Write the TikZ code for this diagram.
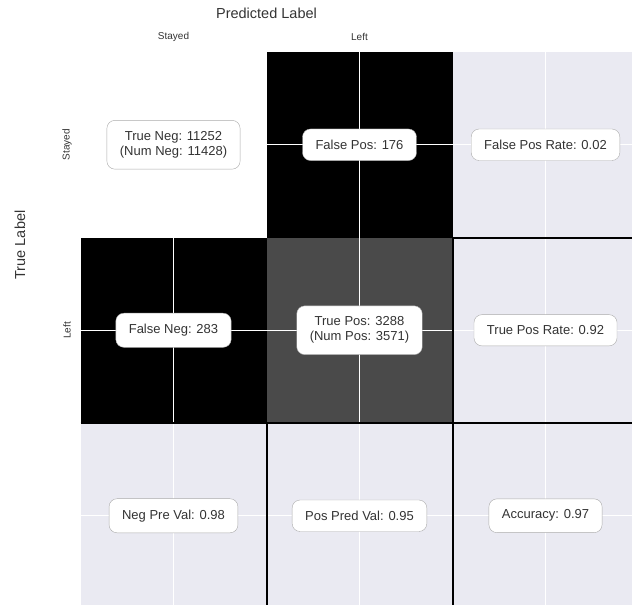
\documentclass[tikz,border=0pt]{standalone}
\usepackage{fontspec}
\setmainfont{Liberation Sans}
\usetikzlibrary{positioning}

\definecolor{axbg}{HTML}{EAEAF2}
\definecolor{cellgray}{HTML}{4A4A4A}
\definecolor{txtgray}{HTML}{333333}
\definecolor{boxedge}{HTML}{ABABAB}

\begin{document}
\begin{tikzpicture}[x = 1pt, y = -1pt,
    cell/.style = {minimum width = 186pt, minimum height = 185.5pt, inner sep = 0pt, outer sep = 0pt},
    stat/.style = {draw = boxedge, fill = white, rounded corners = 8pt, text = txtgray, align = center,
                   font = \fontsize{13}{15}\selectfont, inner xsep = 13pt, inner ysep = 11pt},
    tick/.style = {text = txtgray, font = \fontsize{10}{11}\selectfont},
    axlabel/.style = {text = txtgray, font = \fontsize{14.5}{17}\selectfont},
    gridline/.style = {white, line width = 1pt},
    sepline/.style = {black, line width = 2pt}]
    \useasboundingbox (0,0) rectangle (632,605);
    \clip (0,0) rectangle (632,605);

    % heatmap cells
    \node[cell, fill = white]       (c11) at (173.5,144.75)     {};
    \node[cell, fill = black]       (c12) [right = 0pt of c11]  {};
    \node[cell, fill = axbg]        (c13) [right = 0pt of c12]  {};
    \node[cell, fill = black]       (c21) [below = 0pt of c11]  {};
    \node[cell, fill = cellgray]    (c22) [right = 0pt of c21]  {};
    \node[cell, fill = axbg]        (c23) [right = 0pt of c22]  {};
    \node[cell, fill = axbg]        (c31) [below = 0pt of c21]  {};
    \node[cell, fill = axbg]        (c32) [right = 0pt of c31]  {};
    \node[cell, fill = axbg]        (c33) [right = 0pt of c32]  {};

    % grid
    \foreach \c in {c11, c12, c13}
        \draw[gridline] (\c.north) -- (\c.north |- c31.south);
    \foreach \r in {c11, c21, c31}
        \draw[gridline] (\r.west) -- (\r.west -| c13.east);

    % separators round the rates
    \draw[sepline] (c21.south west) -- (c23.south east);
    \draw[sepline] (c13.south west) -- (c13.south east);
    \draw[sepline] (c13.south west) -- (c33.south west);
    \draw[sepline] (c31.north east) -- (c31.south east);

    % counts and rates
    \node[stat] (tn)  at (c11) {True Neg: 11252\\(Num Neg: 11428)};
    \node[stat] (fp)  at (c12) {False Pos: 176};
    \node[stat] (fpr) at (c13) {False Pos Rate: 0.02};
    \node[stat] (fn)  at (c21) {False Neg: 283};
    \node[stat] (tp)  at (c22) {True Pos: 3288\\(Num Pos: 3571)};
    \node[stat] (tpr) at (c23) {True Pos Rate: 0.92};
    \node[stat] (npv) at (c31) {Neg Pre Val: 0.98};
    \node[stat] (ppv) at (c32) {Pos Pred Val: 0.95};
    \node[stat] (acc) at (c33) {Accuracy: 0.97};

    % axes
    \node[tick] (xt1) at (173.5,37) {Stayed};
    \node[tick] (xt2) at (359.5,37) {Left};
    \node[tick, rotate = 90] (yt1) at (67,144.75) {Stayed};
    \node[tick, rotate = 90] (yt2) at (67,330.25) {Left};
    \node[axlabel] (xlab) at (266.5,13) {Predicted Label};
    \node[axlabel, rotate = 90] (ylab) at (20,245) {True Label};
\end{tikzpicture}
\end{document}
